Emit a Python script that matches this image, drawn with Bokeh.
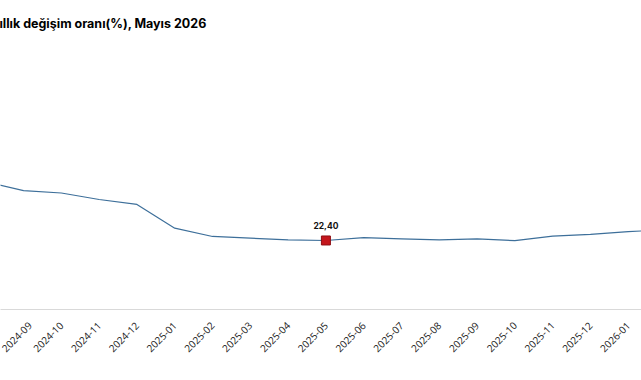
from bokeh.plotting import figure
from bokeh.models import Range1d, FixedTicker, Label
from bokeh.embed import file_html
from bokeh.resources import INLINE

# Monthly annual change rate (%), one value per month
months = ["2024-08", "2024-09", "2024-10", "2024-11", "2024-12",
          "2025-01", "2025-02", "2025-03", "2025-04", "2025-05",
          "2025-06", "2025-07", "2025-08", "2025-09", "2025-10",
          "2025-11", "2025-12", "2026-01", "2026-02"]
values = [41.4, 38.6, 37.8, 35.7, 34.1,
          26.4, 23.7, 23.15, 22.6, 22.40,
          23.3, 22.95, 22.6, 22.9, 22.35,
          23.8, 24.35, 25.3, 25.8]
highlight_month = "2025-05"
title_text = "Yıllık değişim oranı(%), Mayıs 2026"

xs = list(range(len(months)))
hi = months.index(highlight_month)

p = figure(width=641, height=380, output_backend="svg", toolbar_location=None,
           x_range=Range1d(0.39, 17.35), y_range=Range1d(0, 87.3),
           y_axis_location=None, min_border_left=0, min_border_right=0,
           min_border_top=40, min_border_bottom=71)
p.outline_line_color = None
p.xgrid.grid_line_color = None
p.ygrid.grid_line_color = None
p.background_fill_color = "white"
p.border_fill_color = "white"

# Title, shifted left so it starts just past the canvas edge
p.title.text = title_text
p.title.align = "left"
p.title.offset = -10
p.title.text_font = "Inter"
p.title.text_font_style = "bold"
p.title.text_font_size = "12.5px"
p.title.text_color = "#000000"
p.title.standoff = 19

p.line(xs, values, line_color="#3d6f9a", line_width=1.2)
p.scatter([xs[hi]], [values[hi]], marker="square", size=9,
          fill_color="#c4161c", line_color="#8e0f14", line_width=1)

p.add_layout(Label(x=xs[hi], y=values[hi], y_offset=15,
                   text=f"{values[hi]:.2f}".replace(".", ","),
                   text_align="center", text_baseline="alphabetic",
                   text_font="Inter", text_font_style="bold",
                   text_font_size="8.5px", text_color="#111111"))

ax = p.xaxis[0]
ax.ticker = FixedTicker(ticks=xs)
ax.major_label_overrides = {i: m for i, m in enumerate(months)}
ax.major_label_orientation = 0.785398
ax.major_label_text_font = "Open Sans"
ax.major_label_text_font_size = "10px"
ax.major_label_text_color = "#222222"
ax.major_label_standoff = 8
ax.major_tick_line_color = None
ax.minor_tick_line_color = None
ax.axis_line_color = "#d9d9d9"
ax.axis_line_width = 1

open("out.html", "w").write(file_html(p, INLINE))
